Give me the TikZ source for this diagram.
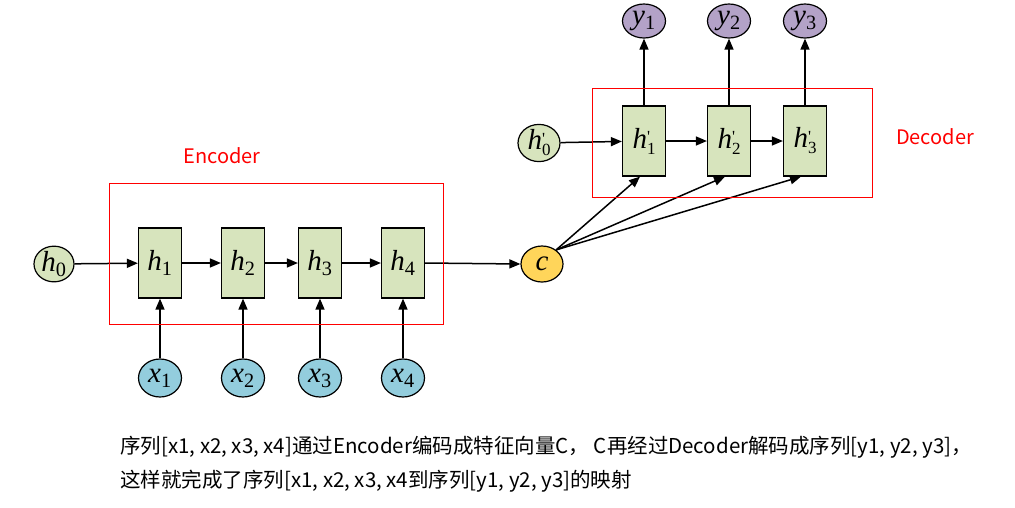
\documentclass[tikz,border=0pt]{standalone}
\usepackage{fontspec}
\newfontfamily\cjk{Noto Sans CJK SC}
\newfontfamily\tms{Liberation Serif}
\usepackage{xcolor}
\definecolor{cellgreen}{HTML}{D7E4BD}
\definecolor{inblue}{HTML}{93CDDD}
\definecolor{outpurple}{HTML}{B3A2C7}
\definecolor{ctxgold}{HTML}{FFD55A}
\definecolor{framered}{HTML}{FF0000}
\usetikzlibrary{shapes.geometric,arrows.meta,positioning,calc}
\newcommand\lbl[2]{\textit{#1}\textsubscript{#2}}
\newcommand\lblp[2]{\textit{#1}\raisebox{-6pt}{\fontsize{17}{12}\selectfont\shortstack[l]{\textquotesingle\\[-3pt]#2}}}

\begin{document}
\begin{tikzpicture}[x=1pt,y=-1pt,
    cell/.style={draw, line width=1.2pt, fill=cellgreen, minimum width=43pt, minimum height=70pt, inner sep=0pt, font=\tms\fontsize{29}{31}\selectfont},
    bubble/.style={draw, line width=1.2pt, ellipse, minimum width=43pt, minimum height=38pt, inner sep=0pt, font=\tms\fontsize{29}{31}\selectfont},
    conn/.style={line width=1.5pt, -{Triangle[length=11pt,width=9pt]}},
    frame/.style={draw=framered, line width=0.9pt},
    caption/.style={anchor=west, inner sep=0pt, font=\cjk\fontsize{20.5}{24}\selectfont}]
  \useasboundingbox (0,0) rectangle (1015,507);

  % encoder
  \node[bubble, fill=cellgreen, minimum width=40pt, minimum height=34pt] (h0) at (54,264) {\lbl{h}{0}};
  \node[cell] (h1) at (160,263) {\lbl{h}{1}};
  \node[cell] (h2) at (243,263) {\lbl{h}{2}};
  \node[cell] (h3) at (320,263) {\lbl{h}{3}};
  \node[cell] (h4) at (403,263) {\lbl{h}{4}};
  \foreach \i/\px in {1/160,2/243,3/320,4/403}
    \node[bubble, fill=inblue] (x\i) at (\px,378) {\lbl{x}{\i}};

  \draw[conn] (h0) -- (h1);
  \draw[conn] (h1) -- (h2);
  \draw[conn] (h2) -- (h3);
  \draw[conn] (h3) -- (h4);
  \foreach \i in {1,...,4}
    \draw[conn] (x\i) -- (h\i);

  % context vector
  \node[bubble, fill=ctxgold, minimum width=42pt, minimum height=36pt] (c) at (542,264) {\textit{c}};
  \draw[conn] (h4.east) -- (c.west);

  % decoder
  \node[bubble, fill=cellgreen, minimum width=42pt, minimum height=36pt] (hd0) at (539,143) {\lblp{h}{0}};
  \node[cell] (hd1) at (644,141) {\lblp{h}{1}};
  \node[cell] (hd2) at (729,141) {\lblp{h}{2}};
  \node[cell] (hd3) at (805,141) {\lblp{h}{3}};
  \foreach \i/\px in {1/644,2/729,3/805}
    \node[bubble, fill=outpurple, minimum height=34pt] (y\i) at (\px,21) {\lbl{y}{\i}};

  \draw[conn] (hd0) -- (hd1);
  \draw[conn] (hd1) -- (hd2);
  \draw[conn] (hd2) -- (hd3);
  \foreach \i in {1,2,3} {
    \draw[conn] (hd\i) -- (y\i);
    \draw[conn] (c.45) -- ([xshift=-4pt]hd\i.south);
  }

  % frames
  \draw[frame] (109,183) rectangle (443,324);
  \draw[frame] (592,88) rectangle (872,197);
  \node[font=\cjk\fontsize{20}{22}\selectfont, text=framered] (enc) at (222,156) {Encoder};
  \node[font=\cjk\fontsize{20}{22}\selectfont, text=framered] (dec) at (935,137) {Decoder};

  % caption
  \node[caption] (line1) at (120,447) {序列[x1, x2, x3, x4]通过Encoder编码成特征向量C，\ C再经过Decoder解码成序列[y1, y2, y3]，};
  \node[caption] (line2) at (120,481) {这样就完成了序列[x1, x2, x3, x4到序列[y1, y2, y3]的映射};
\end{tikzpicture}
\end{document}
